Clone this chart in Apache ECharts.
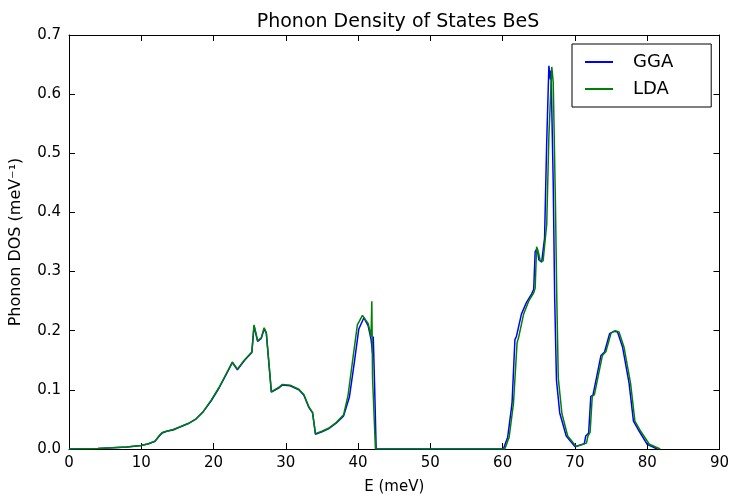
<!DOCTYPE html>
<html><head><meta charset="utf-8">
<script src="https://cdn.jsdelivr.net/npm/echarts@6/dist/echarts.min.js"></script>
<style>html,body{margin:0;padding:0;background:#fff}#c{width:732px;height:500px}</style>
</head><body><div id="c"></div>
<script>
const title = "Phonon Density of States BeS";
const xName = "E (meV)";
const yName = "Phonon DOS (meV\u207B\u00B9)";
const seriesNames = ["GGA", "LDA"];

const ggaE = [0,2,4,6,8,10,11,11.9,12.5,12.9,13.5,14.4,15.5,16.5,17.6,18.5,19.7,20.8,21.7,22.6,23.3,24.3,25.3,25.6,26.1,26.6,27.0,27.3,28.0,29.0,29.5,30.6,31.8,32.5,33.2,33.7,34.1,35.0,35.9,37.0,38.0,38.8,39.5,40.1,40.8,41.4,41.8,42.0,42.1,42.3,42.5,43,60.1,60.7,61.3,61.7,61.9,62.6,63.3,64.0,64.3,64.5,64.8,65.0,65.4,65.8,66.1,66.4,66.6,66.7,67.0,67.2,67.45,67.9,68.8,70.0,71.3,71.5,71.9,72.2,72.5,73.6,74.1,74.8,75.4,75.9,76.6,77.5,78.1,78.9,80.0,81.4];
const ggaDOS = [0,0.0005,0.001,0.002,0.0035,0.006,0.009,0.013,0.022,0.027,0.030,0.032,0.038,0.043,0.051,0.062,0.082,0.104,0.125,0.146,0.134,0.150,0.163,0.208,0.182,0.187,0.203,0.196,0.096,0.103,0.108,0.107,0.100,0.091,0.070,0.061,0.025,0.029,0.034,0.044,0.056,0.088,0.148,0.203,0.222,0.208,0.185,0.162,0.190,0.100,0,0,0,0.020,0.077,0.185,0.190,0.228,0.248,0.262,0.270,0.334,0.339,0.320,0.316,0.356,0.520,0.648,0.625,0.640,0.450,0.256,0.116,0.061,0.022,0.004,0.009,0.022,0.027,0.089,0.091,0.158,0.164,0.195,0.199,0.198,0.172,0.111,0.047,0.030,0.008,0];

const ldaE = [0,2,4,6,8,10,11,11.9,12.5,12.9,13.5,14.4,15.5,16.5,17.6,18.5,19.7,20.8,21.7,22.6,23.3,24.3,25.3,25.6,26.1,26.6,27.0,27.3,28.0,29.0,29.5,30.6,31.8,32.5,33.2,33.7,34.1,35.0,35.9,37.0,38.0,38.6,39.3,39.9,40.6,41.4,41.8,41.9,42.0,42.4,43,60.3,60.9,61.5,62.0,62.2,62.9,63.6,64.3,64.5,64.7,65.0,65.2,65.6,66.1,66.4,66.8,67.0,67.3,67.5,67.7,68.2,69.0,70.2,71.6,71.8,72.1,72.4,72.7,73.8,74.3,75.0,75.6,76.1,76.8,77.7,78.3,79.1,80.3,81.8];
const ldaDOS = [0,0.0005,0.001,0.002,0.0035,0.006,0.009,0.013,0.023,0.028,0.030,0.033,0.038,0.043,0.051,0.062,0.083,0.105,0.126,0.147,0.135,0.151,0.164,0.210,0.183,0.188,0.205,0.197,0.097,0.104,0.109,0.108,0.101,0.092,0.071,0.062,0.026,0.030,0.035,0.045,0.058,0.090,0.155,0.210,0.226,0.212,0.190,0.250,0.120,0,0,0,0.020,0.077,0.180,0.188,0.228,0.250,0.264,0.272,0.342,0.330,0.318,0.318,0.380,0.530,0.646,0.620,0.420,0.250,0.120,0.060,0.022,0.004,0.010,0.022,0.028,0.089,0.092,0.158,0.165,0.196,0.200,0.198,0.172,0.111,0.047,0.030,0.008,0];

const xTicks = [0,10,20,30,40,50,60,70,80,90];
const yTicks = [0,0.1,0.2,0.3,0.4,0.5,0.6,0.7];

const zip = (a,b)=>a.map((v,i)=>[v,b[i]]);
const font = "DejaVu Sans";
const axisCommon = {
  axisLine:{show:true,onZero:false,lineStyle:{color:'#000',width:1}},
  axisTick:{show:true,inside:true,length:6,lineStyle:{color:'#000'}},
  splitLine:{show:false}
};
const chart = echarts.init(document.getElementById('c'));
chart.setOption({
  animation:false,
  backgroundColor:'#fff',
  title:{text:title,left:393,textAlign:'center',top:8,textStyle:{fontFamily:font,fontSize:19,fontWeight:'normal',color:'#000'}},
  grid:{left:65,right:10,top:35,bottom:46},
  legend:{
    data:seriesNames, orient:'vertical', left:572, top:44,
    borderColor:'#000', borderWidth:1, borderRadius:0, padding:[9,38,9,13],
    icon:'rect', itemWidth:28, itemHeight:2, itemGap:9,
    textStyle:{fontFamily:font,fontSize:18,lineHeight:18,color:'#000',padding:[0,0,0,15]}
  },
  xAxis:[
    Object.assign({type:'value',min:0,max:90,interval:10,name:xName,nameLocation:'middle',nameGap:31,
      nameTextStyle:{fontFamily:font,fontSize:15,color:'#000'},
      axisLabel:{fontFamily:font,fontSize:15,color:'#000',margin:7,formatter:v=>xTicks.includes(v)?String(v):''}},axisCommon),
    Object.assign({type:'value',min:0,max:90,interval:10,position:'top',axisLabel:{show:false}},axisCommon)
  ],
  yAxis:[
    Object.assign({type:'value',min:0,max:0.7,interval:0.1,name:yName,nameLocation:'middle',nameGap:45,
      nameTextStyle:{fontFamily:font,fontSize:16,color:'#000'},
      axisLabel:{fontFamily:font,fontSize:15,color:'#000',margin:8,formatter:v=>v.toFixed(1)}},axisCommon),
    Object.assign({type:'value',min:0,max:0.7,interval:0.1,position:'right',axisLabel:{show:false}},axisCommon)
  ],
  series:[
    {name:seriesNames[0],type:'line',data:zip(ggaE,ggaDOS),showSymbol:false,symbol:'none',lineStyle:{color:'#0000ff',width:1.5},itemStyle:{color:'#0000ff'},z:2},
    {name:seriesNames[1],type:'line',data:zip(ldaE,ldaDOS),showSymbol:false,symbol:'none',lineStyle:{color:'#008000',width:1.5},itemStyle:{color:'#008000'},z:3}
  ]
});
</script></body></html>
